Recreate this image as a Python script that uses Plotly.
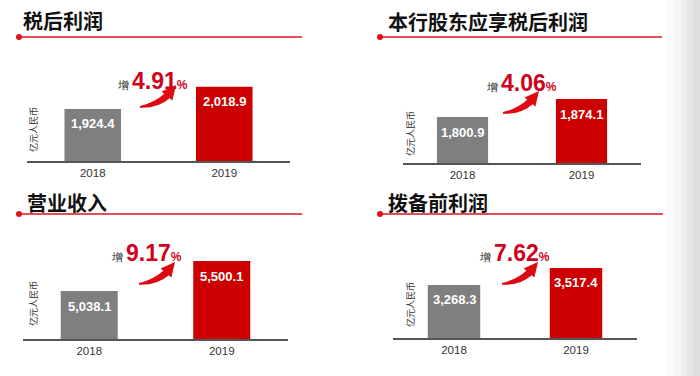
import plotly.graph_objects as go

W, H = 700, 376

# ---- data ----
titles = ["税后利润", "本行股东应享税后利润", "营业收入", "拨备前利润"]
years = ["2018", "2019"]
values_2018 = [1924.4, 1800.9, 5038.1, 3268.3]
values_2019 = [2018.9, 1874.1, 5500.1, 3517.4]
unit_label = "亿元人民币"
growth_prefix = "增"

# ---- layout (pixels) ----
panels = [
    dict(x0=27, x1=290, base=161, top=60, yr=[1701, 2134], title_x=21, title_y=21,
         line=(19, 302, 37), ylab=(33, 130), grow=(115, 81), arrow=(140, 106)),
    dict(x0=403, x1=641, base=163, top=60, yr=[1614, 2033], title_x=386, title_y=22,
         line=(380, 662, 37), ylab=(410, 134), grow=(484, 83), arrow=(503, 112)),
    dict(x0=23, x1=288, base=339, top=238, yr=[4299, 5855], title_x=25, title_y=202,
         line=(19, 302, 214), ylab=(33, 304), grow=(109, 253), arrow=(139, 283)),
    dict(x0=393, x1=637, base=338, top=238, yr=[2492, 3956], title_x=386, title_y=202,
         line=(380, 663, 214), ylab=(410, 305), grow=(477, 253), arrow=(502, 283)),
]

GRAY = "#7f7f7f"
RED = "#cc0000"
LINE_RED = "#e3101c"
TXT_RED = "#d0021b"
FONT = "Liberation Sans, Arial, sans-serif"
CJK = "Noto Sans CJK SC"


def px(x):
    return x / W


def py(y):
    return (H - y) / H


fig = go.Figure()
annotations = []
shapes = []

# right-edge soft gray gradient
for a, b, c in [(666, 674, "#fbfbfb"), (674, 681, "#f5f5f5"), (681, 687, "#eeeeee"),
                (687, 693, "#e6e6e6"), (693, 700, "#dedede")]:
    shapes.append(dict(type="rect", xref="paper", yref="paper", x0=px(a), x1=px(b), y0=0, y1=1,
                       fillcolor=c, line=dict(width=0), layer="below"))

for i, p in enumerate(panels):
    n = "" if i == 0 else str(i + 1)
    xa, ya = "x" + n, "y" + n
    vals = [values_2018[i], values_2019[i]]
    fig.add_trace(go.Bar(
        x=years, y=vals,
        marker=dict(color=[GRAY, RED], line=dict(width=0)),
        width=0.43, xaxis=xa, yaxis=ya, showlegend=False, hoverinfo="x+y",
    ))
    fig.layout["xaxis" + n] = dict(
        domain=[px(p["x0"]), px(p["x1"])], anchor=ya, type="category",
        range=[-0.5, 1.5], showline=True, linecolor="#555555", linewidth=1.5,
        ticks="", showgrid=False, zeroline=False,
        tickfont=dict(family=FONT, size=11.5, color="#333333"), fixedrange=True,
    )
    fig.layout["yaxis" + n] = dict(
        domain=[py(p["base"]), py(p["top"])], anchor=xa, range=p["yr"],
        visible=False, showgrid=False, zeroline=False, fixedrange=True,
    )
    # value labels inside bars (category index positions)
    for k, v in enumerate(vals):
        annotations.append(dict(
            x=k, y=v, xref=xa, yref=ya, text=f"<b>{v:,.1f}</b>", showarrow=False,
            yanchor="middle", yshift=-15,
            font=dict(family=FONT, size=13, color="white"),
        ))
    # title
    annotations.append(dict(
        x=px(p["title_x"]), y=py(p["title_y"]), xref="paper", yref="paper",
        xanchor="left", yanchor="middle", showarrow=False,
        text=f"<b>{titles[i]}</b>", font=dict(family=CJK, size=20, color="#111111"),
    ))
    # red rule with dot
    lx0, lx1, ly = p["line"]
    shapes.append(dict(type="line", xref="paper", yref="paper", x0=px(lx0), x1=px(lx1),
                       y0=py(ly), y1=py(ly), line=dict(color=LINE_RED, width=1.6)))
    shapes.append(dict(type="circle", xref="paper", yref="paper",
                       x0=px(lx0 - 3), x1=px(lx0 + 3), y0=py(ly + 3), y1=py(ly - 3),
                       fillcolor=LINE_RED, line=dict(width=0)))
    # unit label
    ux, uy = p["ylab"]
    annotations.append(dict(
        x=px(ux), y=py(uy), xref="paper", yref="paper", showarrow=False,
        text=unit_label, textangle=-90, xanchor="center", yanchor="middle",
        font=dict(family=CJK, size=9, color="#333333"),
    ))
    # growth text
    g = (values_2019[i] / values_2018[i] - 1) * 100
    gx, gy = p["grow"]
    annotations.append(dict(
        x=px(gx), y=py(gy), xref="paper", yref="paper", showarrow=False,
        xanchor="left", yanchor="middle",
        text=(f"<span style='font-size:11px;color:#222222'>{growth_prefix} </span>"
              f"<b>{g:.2f}</b><span style='font-size:12px'><b>%</b></span>"),
        font=dict(family=FONT, size=23, color=TXT_RED),
    ))
    # curved arrow
    ax, ay = p["arrow"]
    pts = [("M", 0, 0), ("Q", 14, -3, 24.3, -12.2), ("L", 21.6, -14.4), ("L", 36, -21),
           ("L", 32.4, -5.6), ("L", 29.7, -7.8), ("Q", 18, 2.5, 0, 1.8)]
    path = ""
    for seg in pts:
        cmd, coords = seg[0], seg[1:]
        pairs = []
        for k in range(0, len(coords), 2):
            pairs.append(f"{px(ax + coords[k]):.5f},{py(ay + coords[k + 1]):.5f}")
        path += cmd + " " + " ".join(pairs) + " "
    path += "Z"
    shapes.append(dict(type="path", xref="paper", yref="paper", path=path,
                       fillcolor="#dd0a12", line=dict(width=0)))

fig.update_layout(
    width=W, height=H, margin=dict(l=0, r=0, t=0, b=0),
    paper_bgcolor="white", plot_bgcolor="rgba(0,0,0,0)",
    annotations=annotations, shapes=shapes, bargap=0.5,
)
fig.write_html("out.html", config={"displayModeBar": False},
               post_script="document.body.style.margin='0';document.body.style.overflow='hidden';")
